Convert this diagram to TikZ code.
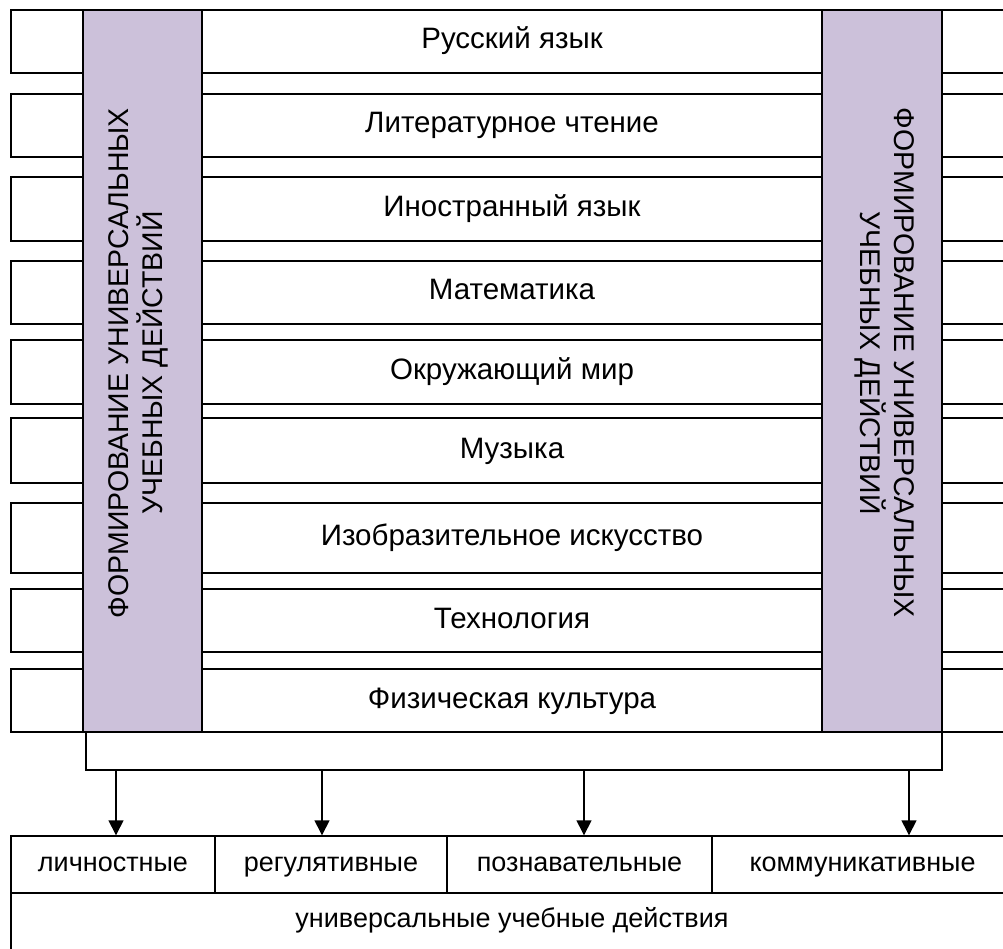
\documentclass[tikz,border=0pt]{standalone}
\usepackage{fontspec}
\setmainfont{Liberation Sans}
\usetikzlibrary{arrows.meta}
\definecolor{lav}{RGB}{204,193,218}
\begin{document}
\begin{tikzpicture}[x=1pt,y=-1pt, line width=1.4pt,
  rowbox/.style={draw, minimum width=1002pt, inner sep=0pt, text height=21pt, text depth=6pt, font=\fontsize{29.5}{34}\selectfont},
  colbox/.style={draw, fill=lav, inner sep=0pt},
  coltext/.style={align=center, inner sep=0pt, font=\fontsize{28.5}{34}\selectfont},
  cell/.style={draw, inner sep=0pt, text height=20pt, text depth=6pt, font=\fontsize{27}{32}\selectfont},
  arr/.style={-{Triangle[length=15pt,width=15pt]}}]
\useasboundingbox (0,0) rectangle (1003,949);
\clip (0,0) rectangle (1003,949);
% rows
\node[rowbox, minimum height=63pt] (r1) at (512,41.5) {Русский язык};
\node[rowbox, minimum height=63pt] (r2) at (512,125.5) {Литературное чтение};
\node[rowbox, minimum height=64pt] (r3) at (512,209) {Иностранный язык};
\node[rowbox, minimum height=63pt] (r4) at (512,292.5) {Математика};
\node[rowbox, minimum height=64pt] (r5) at (512,372) {Окружающий мир};
\node[rowbox, minimum height=65pt] (r6) at (512,450.5) {Музыка};
\node[rowbox, minimum height=70pt] (r7) at (512,538) {Изобразительное искусство};
\node[rowbox, minimum height=63pt] (r8) at (512,620.5) {Технология};
\node[rowbox, minimum height=63pt] (r9) at (512,700.5) {Физическая культура};
% columns
\node[colbox, minimum width=119pt, minimum height=722pt] (cl) at (142.5,371) {};
\node[colbox, minimum width=120pt, minimum height=722pt] (cr) at (882,371) {};
\node[coltext, rotate=90] (tl) at (138,363) {ФОРМИРОВАНИЕ УНИВЕРСАЛЬНЫХ\\УЧЕБНЫХ ДЕЙСТВИЙ};
\node[coltext, rotate=-90] (tr) at (885,363) {ФОРМИРОВАНИЕ УНИВЕРСАЛЬНЫХ\\УЧЕБНЫХ ДЕЙСТВИЙ};
% bracket
\coordinate (bl) at (86,732);
\coordinate (br) at (942,732);
\draw (bl) -- ++(0,38) -| (br);
% bottom table
\node[cell, minimum width=204pt, minimum height=57pt] (c1) at (113,864.5) {личностные};
\node[cell, minimum width=232pt, minimum height=57pt] (c2) at (331,864.5) {регулятивные};
\node[cell, minimum width=265pt, minimum height=57pt] (c3) at (579.5,864.5) {познавательные};
\node[cell, minimum width=301pt, minimum height=57pt] (c4) at (862.5,864.5) {коммуникативные};
\node[draw, inner sep=0pt, minimum width=1002pt, minimum height=97pt] (u) at (512,941.5) {};
\node[font=\fontsize{27}{32}\selectfont, inner sep=0pt, text height=20pt, text depth=6pt] (ut) at (512,920) {универсальные учебные действия};
% arrows
\coordinate (a1) at (116,770);
\coordinate (a2) at (322,770);
\coordinate (a3) at (584,770);
\coordinate (a4) at (909,770);
\draw[arr] (a1) -- (a1 |- c1.north);
\draw[arr] (a2) -- (a2 |- c2.north);
\draw[arr] (a3) -- (a3 |- c3.north);
\draw[arr] (a4) -- (a4 |- c4.north);
\end{tikzpicture}
\end{document}
